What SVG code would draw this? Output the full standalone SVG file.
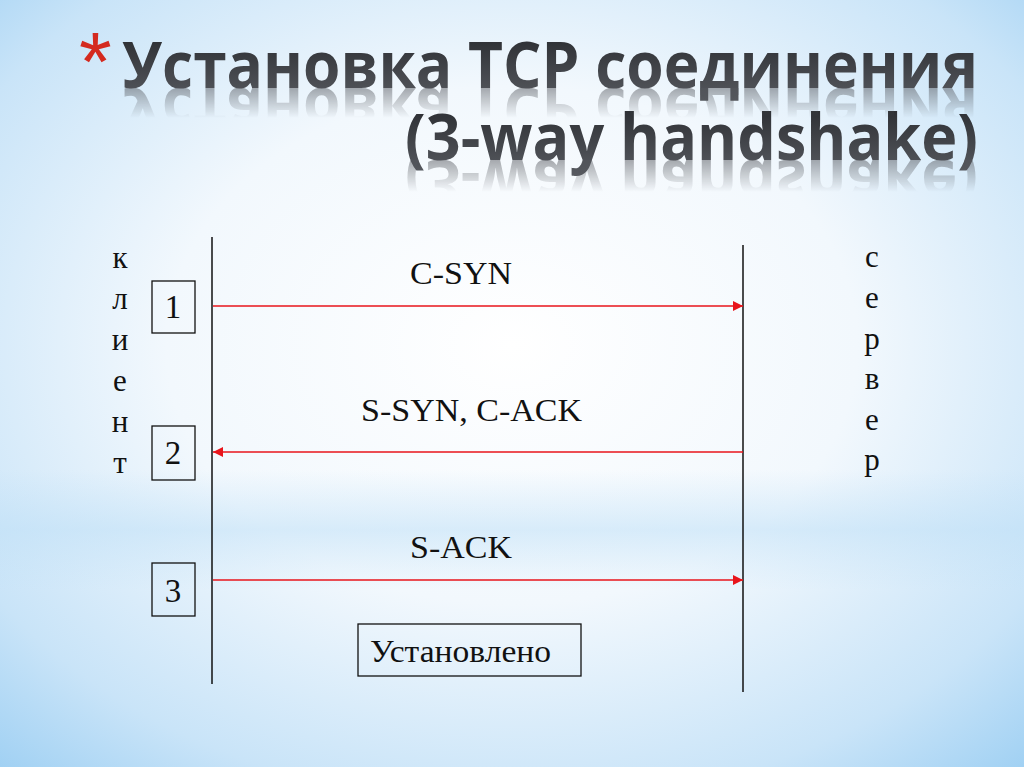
<svg xmlns="http://www.w3.org/2000/svg" width="1024" height="767" viewBox="0 0 1024 767">
<defs>
<radialGradient id="bg" cx="0.5" cy="0.45" r="0.75">
<stop offset="0" stop-color="#ffffff"/>
<stop offset="0.45" stop-color="#f2f8fd"/>
<stop offset="0.8" stop-color="#c9e4f8"/>
<stop offset="1" stop-color="#9fd0f3"/>
</radialGradient>
<linearGradient id="band" x1="0" y1="0" x2="0" y2="1">
<stop offset="0" stop-color="#bfe0f7" stop-opacity="0"/>
<stop offset="0.5" stop-color="#bfe0f7" stop-opacity="0.55"/>
<stop offset="1" stop-color="#bfe0f7" stop-opacity="0"/>
</linearGradient>
<linearGradient id="tg" x1="0" y1="0" x2="0" y2="1">
<stop offset="0" stop-color="#222428"/>
<stop offset="1" stop-color="#5a5d63"/>
</linearGradient>
<linearGradient id="fade1" x1="0" y1="88" x2="0" y2="118" gradientUnits="userSpaceOnUse">
<stop offset="0" stop-color="#fff" stop-opacity="0.5"/>
<stop offset="1" stop-color="#fff" stop-opacity="0"/>
</linearGradient>
<mask id="m1" maskUnits="userSpaceOnUse" x="0" y="86" width="1024" height="40">
<rect x="0" y="88" width="1024" height="30" fill="url(#fade1)"/>
</mask>
<linearGradient id="fade2" x1="0" y1="160" x2="0" y2="192" gradientUnits="userSpaceOnUse">
<stop offset="0" stop-color="#fff" stop-opacity="0.5"/>
<stop offset="1" stop-color="#fff" stop-opacity="0"/>
</linearGradient>
<mask id="m2" maskUnits="userSpaceOnUse" x="0" y="158" width="1024" height="40">
<rect x="0" y="160" width="1024" height="32" fill="url(#fade2)"/>
</mask>
<marker id="ah" viewBox="0 0 10 10" refX="10" refY="5" markerWidth="10" markerHeight="11" markerUnits="userSpaceOnUse" orient="auto">
<path d="M0,0 L10,5 L0,10 Z" fill="#e8141b"/>
</marker>
<style>
.title{font-family:"Open Sans","DejaVu Sans",sans-serif;font-weight:700;font-size:64px;fill:url(#tg)}
.refl{font-family:"Open Sans","DejaVu Sans",sans-serif;font-weight:700;font-size:64px;fill:#55585e}
.t{font-family:"Liberation Serif","Times New Roman",serif;font-size:31px;fill:#111}
.n{font-family:"Liberation Serif","Times New Roman",serif;font-size:33px;fill:#111;text-anchor:middle}
.v{font-family:"Liberation Serif","Times New Roman",serif;font-size:31px;fill:#111;text-anchor:middle}
.box{fill:none;stroke:#111;stroke-width:1.3}
.life{stroke:#111;stroke-width:1.5}
.msg{stroke:#e8141b;stroke-width:1.5;fill:none}
</style>
</defs>
<rect width="1024" height="767" fill="url(#bg)"/>
<rect x="0" y="470" width="1024" height="120" fill="url(#band)"/>

<g id="title">
<text x="79" y="91" font-family="Liberation Sans,sans-serif" font-size="84" fill="#d42a1f">*</text>
<text class="title" x="978" y="88" text-anchor="end" textLength="856" lengthAdjust="spacingAndGlyphs">Установка TCP соединения</text>
<text class="title" x="978" y="160" text-anchor="end" textLength="573" lengthAdjust="spacingAndGlyphs">(3-way handshake)</text>
<g mask="url(#m1)">
<text class="refl" x="978" y="88" text-anchor="end" textLength="856" lengthAdjust="spacingAndGlyphs" transform="translate(0,176) scale(1,-1)">Установка TCP соединения</text>
</g>
<g mask="url(#m2)">
<text class="refl" x="978" y="160" text-anchor="end" textLength="573" lengthAdjust="spacingAndGlyphs" transform="translate(0,320) scale(1,-1)">(3-way handshake)</text>
</g>
</g>

<g id="client">
<text class="v" x="120" y="268">к</text>
<text class="v" x="120" y="309">л</text>
<text class="v" x="120" y="350">и</text>
<text class="v" x="120" y="391">е</text>
<text class="v" x="120" y="432">н</text>
<text class="v" x="120" y="473">т</text>
<line class="life" x1="212" y1="237" x2="212" y2="684"/>
</g>

<g id="server">
<text class="v" x="872" y="267">с</text>
<text class="v" x="872" y="308">е</text>
<text class="v" x="872" y="349">р</text>
<text class="v" x="872" y="389">в</text>
<text class="v" x="872" y="430">е</text>
<text class="v" x="872" y="470">р</text>
<line class="life" x1="743" y1="245" x2="743" y2="692"/>
</g>

<g id="step1">
<rect class="box" x="152" y="281" width="43" height="52"/>
<text class="n" x="173" y="318">1</text>
</g>
<g id="step2">
<rect class="box" x="152" y="426" width="43" height="54"/>
<text class="n" x="173" y="464">2</text>
</g>
<g id="step3">
<rect class="box" x="152" y="563" width="43" height="53"/>
<text class="n" x="173" y="602">3</text>
</g>
<g id="established">
<rect class="box" x="358" y="624" width="223" height="52"/>
<text class="t" x="370" y="662" textLength="181" lengthAdjust="spacingAndGlyphs">Установлено</text>
</g>

<g id="connectors">
<line class="msg" x1="213" y1="306" x2="743" y2="306" marker-end="url(#ah)"/>
<line class="msg" x1="743" y1="452" x2="213" y2="452" marker-end="url(#ah)"/>
<line class="msg" x1="213" y1="580" x2="743" y2="580" marker-end="url(#ah)"/>
<text class="t" x="410" y="284" textLength="102" lengthAdjust="spacingAndGlyphs">C-SYN</text>
<text class="t" x="361" y="421" textLength="221" lengthAdjust="spacingAndGlyphs">S-SYN, C-ACK</text>
<text class="t" x="410" y="558" textLength="102" lengthAdjust="spacingAndGlyphs">S-ACK</text>
</g>
</svg>
